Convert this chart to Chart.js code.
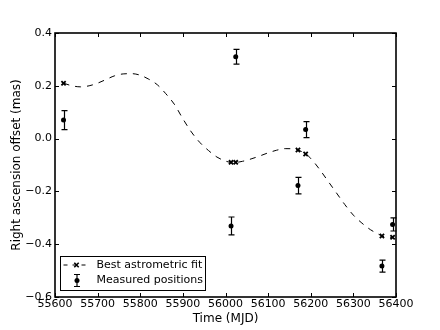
<!DOCTYPE html>
<html>
<head>
<meta charset="utf-8">
<script src="https://cdn.jsdelivr.net/npm/chart.js@4"></script>
<style>
  body { margin: 0; background: #fff; }
  canvas { display: block; }
</style>
</head>
<body>
<canvas id="raChart" width="440" height="330"></canvas>
<script>
// Model curve (best astrometric fit)
const curveMjd = [55620, 55640, 55660, 55680, 55700, 55720, 55740, 55760, 55780, 55800,
    55820, 55840, 55860, 55880, 55900, 55920, 55940, 55960, 55980, 56000,
    56013, 56024, 56040, 56060, 56080, 56100, 56120, 56140, 56160, 56170,
    56188, 56200, 56220, 56240, 56260, 56280, 56300, 56320, 56340, 56360,
    56367, 56380, 56392];
const curveRa = [0.210, 0.200, 0.196, 0.200, 0.210, 0.224, 0.238, 0.245, 0.246, 0.240,
    0.225, 0.204, 0.170, 0.130, 0.075, 0.025, -0.015, -0.045, -0.070, -0.085,
    -0.090, -0.090, -0.086, -0.077, -0.066, -0.054, -0.044, -0.038, -0.039, -0.043,
    -0.058, -0.075, -0.115, -0.160, -0.205, -0.250, -0.290, -0.320, -0.345, -0.363,
    -0.369, -0.373, -0.374];

// Epochs of the measurements
const epochMjd = [55620, 56013, 56024, 56170, 56188, 56367, 56392];
const fitRa = [0.210, -0.090, -0.090, -0.043, -0.058, -0.369, -0.374];
const measRa = [0.070, -0.331, 0.310, -0.178, 0.034, -0.483, -0.325];
const measErr = [0.036, 0.034, 0.028, 0.031, 0.030, 0.023, 0.025];

const xTicks = [55600, 55700, 55800, 55900, 56000, 56100, 56200, 56300, 56400];
const yTicks = [-0.6, -0.4, -0.2, 0.0, 0.2, 0.4];

const FONT = 'DejaVu Sans';

function pairs(xs, ys) {
    return xs.map((x, i) => ({ x: x, y: ys[i] }));
}

function drawCross(ctx, x, y, r) {
    ctx.beginPath();
    ctx.moveTo(x - r, y - r); ctx.lineTo(x + r, y + r);
    ctx.moveTo(x - r, y + r); ctx.lineTo(x + r, y - r);
    ctx.stroke();
}

function drawErrorBar(ctx, x, yTop, yBot, yMid) {
    ctx.beginPath();
    ctx.moveTo(x, yTop); ctx.lineTo(x, yBot);
    ctx.moveTo(x - 3, yTop); ctx.lineTo(x + 3, yTop);
    ctx.moveTo(x - 3, yBot); ctx.lineTo(x + 3, yBot);
    ctx.stroke();
    ctx.beginPath();
    ctx.arc(x, yMid, 2.5, 0, Math.PI * 2);
    ctx.fill();
}

const framePlugin = {
    id: 'frame',
    beforeDatasetsDraw(chart) {
        // error bars on the measured positions
        const ctx = chart.ctx;
        const xs = chart.scales.x, ys = chart.scales.y;
        ctx.save();
        ctx.strokeStyle = '#000';
        ctx.lineWidth = 1.2;
        epochMjd.forEach((m, i) => {
            const px = Math.round(xs.getPixelForValue(m)) + 0.5;
            const top = ys.getPixelForValue(measRa[i] + measErr[i]);
            const bot = ys.getPixelForValue(measRa[i] - measErr[i]);
            ctx.beginPath();
            ctx.moveTo(px, top); ctx.lineTo(px, bot);
            ctx.moveTo(px - 3, top); ctx.lineTo(px + 3, top);
            ctx.moveTo(px - 3, bot); ctx.lineTo(px + 3, bot);
            ctx.stroke();
        });
        ctx.restore();
    },
    afterDraw(chart) {
        const ctx = chart.ctx;
        const a = chart.chartArea;
        const xs = chart.scales.x, ys = chart.scales.y;
        ctx.save();
        ctx.strokeStyle = '#000';

        // inward ticks on all four sides
        ctx.lineWidth = 1;
        ctx.beginPath();
        xTicks.forEach(v => {
            const px = Math.round(xs.getPixelForValue(v)) + 0.5;
            ctx.moveTo(px, a.bottom); ctx.lineTo(px, a.bottom - 4);
            ctx.moveTo(px, a.top); ctx.lineTo(px, a.top + 4);
        });
        yTicks.forEach(v => {
            const py = Math.round(ys.getPixelForValue(v)) + 0.5;
            ctx.moveTo(a.left, py); ctx.lineTo(a.left + 4, py);
            ctx.moveTo(a.right, py); ctx.lineTo(a.right - 4, py);
        });
        ctx.stroke();

        // axes frame
        ctx.lineWidth = 1.6;
        ctx.strokeRect(a.left, a.top, a.right - a.left, a.bottom - a.top);

        // legend box, lower left
        const lx = a.left + 5.5, ly = a.bottom - 40.5;
        ctx.lineWidth = 1;
        ctx.fillStyle = '#fff';
        ctx.fillRect(lx, ly, 145, 34);
        ctx.strokeRect(lx, ly, 145, 34);

        ctx.fillStyle = '#000';
        const r1 = ly + 8.5, r2 = ly + 24;
        ctx.setLineDash([4, 5]);
        ctx.beginPath();
        ctx.moveTo(lx + 3, r1); ctx.lineTo(lx + 29, r1);
        ctx.stroke();
        ctx.setLineDash([]);
        ctx.lineWidth = 1.6;
        drawCross(ctx, lx + 16, r1, 2.2);
        ctx.lineWidth = 1.2;
        drawErrorBar(ctx, lx + 16.5, r2 - 6, r2 + 6, r2);

        ctx.font = '11px "' + FONT + '"';
        ctx.textAlign = 'left';
        ctx.textBaseline = 'middle';
        ctx.fillText('Best astrometric fit', lx + 36, r1);
        ctx.fillText('Measured positions', lx + 36, r2);
        ctx.restore();
    }
};

new Chart(document.getElementById('raChart'), {
    type: 'scatter',
    data: {
        datasets: [{
            type: 'line',
            data: pairs(curveMjd, curveRa),
            borderColor: '#000',
            borderWidth: 1,
            borderDash: [6, 6],
            pointRadius: 0,
            cubicInterpolationMode: 'monotone',
            fill: false
        }, {
            data: pairs(epochMjd, fitRa),
            pointStyle: 'crossRot',
            pointRadius: 3,
            borderColor: '#000',
            borderWidth: 1.8,
            backgroundColor: '#000'
        }, {
            data: pairs(epochMjd, measRa),
            pointStyle: 'circle',
            pointRadius: 2.5,
            borderWidth: 0,
            backgroundColor: '#000'
        }]
    },
    options: {
        responsive: false,
        animation: false,
        devicePixelRatio: 1,
        layout: { padding: { top: 33, right: 44, left: 0, bottom: 0 } },
        plugins: {
            legend: { display: false },
            tooltip: { enabled: false }
        },
        scales: {
            x: {
                type: 'linear',
                min: 55600,
                max: 56400,
                afterBuildTicks: s => { s.ticks = xTicks.map(v => ({ value: v })); },
                afterFit: s => { s.height = 33; },
                grid: { display: false, drawTicks: false },
                border: { display: false },
                ticks: {
                    padding: 1,
                    color: '#000',
                    font: { family: FONT, size: 11 },
                    maxRotation: 0,
                    autoSkip: false,
                    callback: v => String(v)
                },
                title: {
                    display: true,
                    text: 'Time (MJD)',
                    color: '#000',
                    font: { family: FONT, size: 12 },
                    padding: { top: 0, bottom: 4 }
                }
            },
            y: {
                min: -0.6,
                max: 0.4,
                afterBuildTicks: s => { s.ticks = yTicks.map(v => ({ value: v })); },
                afterFit: s => { s.width = 55; },
                grid: { display: false, drawTicks: false },
                border: { display: false },
                ticks: {
                    padding: 3,
                    color: '#000',
                    font: { family: FONT, size: 11 },
                    autoSkip: false,
                    callback: v => (Math.abs(v) < 1e-9 ? 0 : v).toFixed(1).replace('-', '\u2212')
                },
                title: {
                    display: true,
                    text: 'Right ascension offset (mas)',
                    color: '#000',
                    font: { family: FONT, size: 12 },
                    padding: { top: 10, bottom: 0 }
                }
            }
        }
    },
    plugins: [framePlugin]
});
</script>
</body>
</html>
